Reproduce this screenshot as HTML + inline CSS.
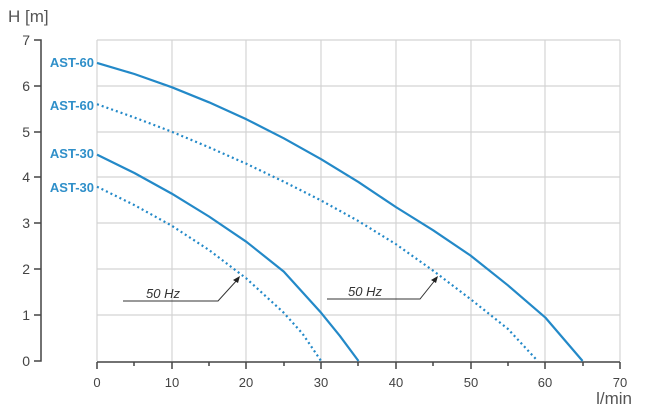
<!DOCTYPE html><html><head><style>body{margin:0;background:#fff}</style></head><body>
<svg width="648" height="414" xmlns="http://www.w3.org/2000/svg" font-family="Liberation Sans, sans-serif">
<rect width="648" height="414" fill="#fff"/>
<g stroke="#d4d4d4" stroke-width="1.2">
<line x1="97" y1="40" x2="620" y2="40"/><line x1="97" y1="86" x2="620" y2="86"/><line x1="97" y1="132" x2="620" y2="132"/><line x1="97" y1="177" x2="620" y2="177"/><line x1="97" y1="223" x2="620" y2="223"/><line x1="97" y1="269" x2="620" y2="269"/><line x1="97" y1="315" x2="620" y2="315"/>
<line x1="97" y1="40" x2="97" y2="361"/><line x1="172" y1="40" x2="172" y2="361"/><line x1="246" y1="40" x2="246" y2="361"/><line x1="321" y1="40" x2="321" y2="361"/><line x1="396" y1="40" x2="396" y2="361"/><line x1="471" y1="40" x2="471" y2="361"/><line x1="545" y1="40" x2="545" y2="361"/><line x1="620" y1="40" x2="620" y2="361"/>
</g>
<g stroke="#444" stroke-width="1.5" fill="none">
<path d="M34 40H41V361H34"/><path d="M34 86h7M34 132h7M34 177h7M34 223h7M34 269h7M34 315h7"/>
<path d="M97 362H620"/><path d="M97 362v7M134 362v4M172 362v7M209 362v4M246 362v7M284 362v4M321 362v7M358 362v4M396 362v7M433 362v4M471 362v7M508 362v4M545 362v7M583 362v4M620 362v7"/>
</g>
<g font-size="14" fill="#444" text-anchor="end">
<text x="30" y="45">7</text><text x="30" y="91">6</text><text x="30" y="137">5</text><text x="30" y="182">4</text><text x="30" y="228">3</text><text x="30" y="274">2</text><text x="30" y="320">1</text><text x="30" y="366">0</text>
</g>
<g font-size="13" fill="#444" text-anchor="middle">
<text x="97" y="387">0</text><text x="172" y="387">10</text><text x="246" y="387">20</text><text x="321" y="387">30</text><text x="396" y="387">40</text><text x="471" y="387">50</text><text x="545" y="387">60</text><text x="620" y="387">70</text>
</g>
<text x="8" y="22" font-size="17" fill="#555">H [m]</text>
<text x="632" y="404" font-size="17" fill="#555" text-anchor="end">l/min</text>
<g font-size="13" font-weight="bold" fill="#2f8fc9" text-anchor="end">
<text x="94" y="67">AST-60</text><text x="94" y="110">AST-60</text><text x="94" y="158">AST-30</text><text x="94" y="192">AST-30</text>
</g>
<g fill="none" stroke="#2389c8" stroke-width="2.2" stroke-linejoin="round">
<polyline points="97,62.9 134.4,74 171.7,87.2 209,102.3 246.4,119.3 283.8,138.3 321.1,159.2 358.5,182.1 395.8,207 433.2,230.3 470.5,255.5 507.9,285.3 545.2,317.4 582.6,361"/>
<polyline stroke-dasharray="2 3" points="97,104.2 134.4,117.5 171.7,131.7 209,147.3 246.4,163.8 283.8,181.7 321.1,200.5 358.5,221.1 395.8,244.1 433.2,270.7 470.5,299.1 507.9,328.9 537.7,361"/>
<polyline points="97,154.6 134.4,173 171.7,193.6 209,216.5 246.4,241.8 283.8,271.6 321.1,312.8 339.8,335.8 358.5,361"/>
<polyline stroke-dasharray="2 3" points="97,186.7 134.4,205.1 171.7,225.7 209,250 246.4,278.5 283.8,312.8 302.4,333.5 321.1,361"/>
</g>
<g stroke="#333" stroke-width="1" fill="none">
<path d="M123 301H218L238 279"/><path d="M327 299H420L436 279"/>
</g>
<path d="M240 276l-7 4 5 3z M438 276l-7 4 5 3z" fill="#222"/>
<g font-size="13" font-style="italic" fill="#333">
<text x="146" y="298">50 Hz</text><text x="348" y="296">50 Hz</text>
</g>
</svg>
</body></html>
